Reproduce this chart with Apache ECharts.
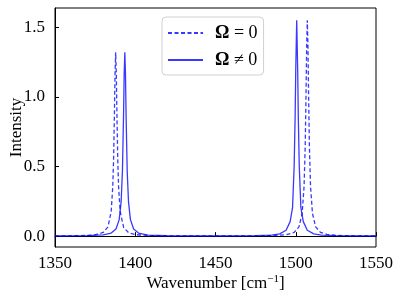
<!DOCTYPE html>
<html><head><meta charset="utf-8">
<script src="https://cdn.jsdelivr.net/npm/echarts@6/dist/echarts.min.js"></script>
<style>html,body{margin:0;padding:0;background:#fff}#c{width:399px;height:299px}</style>
</head><body><div id="c"></div>
<script>
const xTicks = [1350, 1400, 1450, 1500, 1550];
const yTicks = [0, 0.5, 1.0, 1.5];
const seriesNames = ['Omega = 0', 'Omega != 0'];
const dashedX = [1350,1360,1370,1375,1380,1383,1385,1386,1386.5,1387,1387.4,1387.8,1388.2,1388.6,1389.1,1389.6,1390.6,1392.8,1396,1400,1410,1420,1430,1440,1450,1460,1470,1480,1490,1495,1499,1502,1504,1505.2,1505.9,1506.4,1506.8,1507.2,1507.6,1508.0,1508.5,1509.2,1510.4,1512.4,1515.4,1519.4,1525,1530,1540,1550];
const dashedY = [0.0012,0.0022,0.0051,0.0099,0.0263,0.066,0.177,0.359,0.551,0.863,1.166,1.32,1.166,0.863,0.551,0.359,0.177,0.0609,0.0233,0.0108,0.0034,0.0018,0.0012,0.0010,0.0010,0.0012,0.0016,0.0027,0.0065,0.0126,0.0274,0.0664,0.1638,0.360,0.647,1.014,1.369,1.55,1.369,1.014,0.647,0.360,0.1638,0.0664,0.0274,0.0125,0.0059,0.0036,0.0017,0.0011];
const solidX = [1350,1360,1370,1380,1385,1388,1390,1391.2,1392,1392.7,1393.1,1393.5,1393.9,1394.3,1395,1395.8,1397,1399,1402,1408,1420,1435,1450,1465,1475,1485,1490,1494,1496.5,1498,1499,1499.6,1500.0,1500.6,1501.2,1501.6,1502.2,1503.2,1504.7,1507.2,1511.2,1516,1525,1535,1550];
const solidY = [0.0009,0.0015,0.0030,0.0088,0.0218,0.0508,0.1187,0.2457,0.462,0.863,1.166,1.32,1.166,0.863,0.462,0.2457,0.1187,0.0508,0.0219,0.0078,0.0026,0.0014,0.0012,0.0018,0.0031,0.0079,0.0165,0.0419,0.1041,0.2043,0.4975,0.849,1.195,1.55,1.195,0.849,0.4975,0.2043,0.1041,0.0419,0.0165,0.0079,0.0031,0.0016,0.0008];

const pair = (xs, ys) => xs.map((x, i) => [x, ys[i]]);
const FONT = 'Liberation Serif';
const blue = 'rgba(0,0,255,0.78)';
const chart = echarts.init(document.getElementById('c'), null, {renderer: 'canvas'});
chart.setOption({
  animation: false,
  backgroundColor: '#fff',
  grid: {left: 55, top: 8, width: 321, height: 239, show: true, borderColor: '#000', borderWidth: 1, backgroundColor: 'transparent', containLabel: false, outerBoundsMode: 'none'},
  xAxis: {
    type: 'value', min: 1350, max: 1550, interval: 50,
    name: '{a|Wavenumber [cm}{s|−1}{a|]}', nameLocation: 'middle', nameGap: 27, nameMoveOverlap: false,
    nameTextStyle: {rich: {a: {fontFamily: FONT, fontSize: 17, color: '#000'}, s: {fontFamily: FONT, fontSize: 11, color: '#000', padding: [0, 0, 9, 0]}}},
    axisLine: {lineStyle: {color: '#000', width: 1}},
    axisTick: {inside: true, length: 4, lineStyle: {color: '#000'}, customValues: xTicks},
    axisLabel: {fontFamily: FONT, fontSize: 17, color: '#000', margin: 8, customValues: xTicks, formatter: v => String(v)},
    splitLine: {show: false}
  },
  yAxis: {
    type: 'value', min: -0.078, max: 1.638,
    name: 'Intensity', nameLocation: 'middle', nameGap: 30, nameMoveOverlap: false,
    nameTextStyle: {fontFamily: FONT, fontSize: 17, color: '#000'},
    axisLine: {show: true, lineStyle: {color: '#000', width: 1}},
    axisTick: {show: true, inside: true, length: 4, lineStyle: {color: '#000'}, customValues: yTicks},
    axisLabel: {fontFamily: FONT, fontSize: 17, color: '#000', margin: 10, customValues: yTicks, formatter: v => v.toFixed(1)},
    splitLine: {show: false}
  },
  legend: {
    orient: 'vertical', left: 162, top: 17,
    padding: [7, 6, 6, 5], itemGap: 9, itemWidth: 35, itemHeight: 14,
    backgroundColor: '#fff', borderColor: '#d0d0d0', borderWidth: 1, borderRadius: 4,
    itemStyle: {opacity: 0},
    data: seriesNames,
    formatter: name => name === seriesNames[0] ? '{b|Ω}{t| = 0}' : '{b|Ω}{t| ≠ 0}',
    textStyle: {padding: [0, 0, 0, 7], lineHeight: 18, rich: {
      b: {fontFamily: FONT, fontWeight: 'bold', fontSize: 18, color: '#000'},
      t: {fontFamily: FONT, fontSize: 18, color: '#000'}
    }}
  },
  series: [
    {name: seriesNames[0], type: 'line', data: pair(dashedX, dashedY), showSymbol: false, symbol: 'none',
     lineStyle: {color: blue, width: 1.3, type: [4, 2.5]}, itemStyle: {color: blue}},
    {name: seriesNames[1], type: 'line', data: pair(solidX, solidY), showSymbol: false, symbol: 'none',
     lineStyle: {color: blue, width: 1.3}, itemStyle: {color: blue}}
  ]
});
</script></body></html>
